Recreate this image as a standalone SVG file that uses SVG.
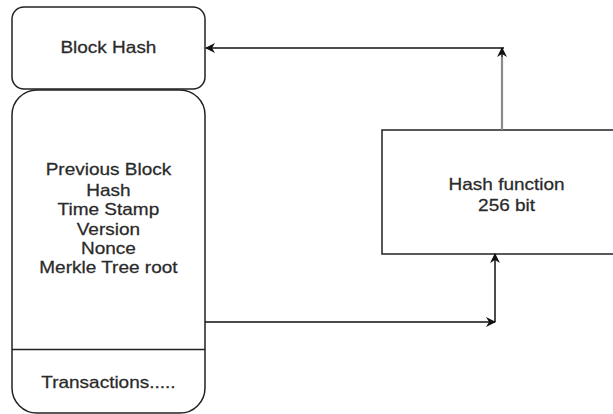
<svg xmlns="http://www.w3.org/2000/svg" width="613" height="414" viewBox="0 0 613 414">
  <defs>
    <marker id="arrow" viewBox="0 0 10 10" refX="9" refY="5" markerWidth="11" markerHeight="10" markerUnits="userSpaceOnUse" orient="auto">
      <path d="M0,0 L10,5 L0,10 L3,5 Z" fill="#111"/>
    </marker>
  </defs>
  <style>
    .box { fill: #ffffff; stroke: #222; stroke-width: 1.5; }
    .edge { fill: none; stroke: #111; stroke-width: 1.5; }
    .edge-grey { fill: none; stroke: #8a8a8a; stroke-width: 2.2; }
    .label { font-family: "Liberation Sans", Arial, sans-serif; font-size: 16.3px; fill: #2a2a2a; text-anchor: middle; stroke: #2a2a2a; stroke-width: 0.25; }
  </style>

  <rect width="613" height="414" fill="#ffffff"/>

  <!-- Block header: hash field -->
  <g id="block-hash">
    <rect class="box" x="12" y="7" width="193" height="82" rx="12" ry="12"/>
    <g transform="scale(1.166 1)">
      <text class="label" x="93" y="53">Block Hash</text>
    </g>
  </g>

  <!-- Block body: header fields and transactions -->
  <g id="block-body">
    <path class="box" d="M37,90 H180 A25,25 0 0 1 205,115 V388 A25,25 0 0 1 180,413 H37 A25,25 0 0 1 12,388 V115 A25,25 0 0 1 37,90 Z"/>
    <line x1="12" y1="349.5" x2="205" y2="349.5" stroke="#222" stroke-width="1.5"/>
    <g transform="scale(1.166 1)">
      <text class="label" x="93" y="175">Previous Block</text>
      <text class="label" x="93" y="196">Hash</text>
      <text class="label" x="93" y="215.5">Time Stamp</text>
      <text class="label" x="93" y="235">Version</text>
      <text class="label" x="93" y="254">Nonce</text>
      <text class="label" x="93" y="273">Merkle Tree root</text>
    </g>
  </g>

  <g id="block-transactions">
    <g transform="scale(1.166 1)">
      <text class="label" x="93" y="388">Transactions.....</text>
    </g>
  </g>

  <!-- Hashing step -->
  <g id="hash-function">
    <rect class="box" x="382" y="130" width="240" height="124"/>
    <g transform="scale(1.166 1)">
      <text class="label" x="434.5" y="190">Hash function</text>
      <text class="label" x="434.5" y="211">256 bit</text>
    </g>
  </g>

  <!-- Connectors -->
  <g id="connectors">
    <path class="edge-grey" d="M502,130 V57"/>
    <path class="edge" d="M502,57 V48" marker-end="url(#arrow)"/>
    <path class="edge" d="M504,48 H206" marker-end="url(#arrow)"/>
    <path class="edge" d="M205,322 H495" marker-end="url(#arrow)"/>
    <path class="edge" d="M495,322 V254" marker-end="url(#arrow)"/>
  </g>
</svg>
